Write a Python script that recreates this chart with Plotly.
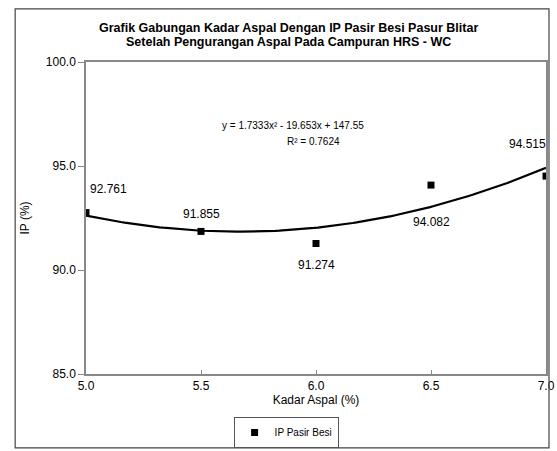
import numpy as np
import plotly.graph_objects as go

# Asphalt content (%) and IP values for Pasir Besi
kadar_aspal = [5.0, 5.5, 6.0, 6.5, 7.0]
ip_pasir_besi = [92.761, 91.855, 91.274, 94.082, 94.515]
x_ticks = [5.0, 5.5, 6.0, 6.5, 7.0]
y_ticks = [85.0, 90.0, 95.0, 100.0]

# Second-order polynomial trendline fitted to the data
coef = np.polyfit(kadar_aspal, ip_pasir_besi, 2)
xs = np.linspace(5.0, 7.0, 120)
ys = np.polyval(coef, xs)

equation_text = "y = 1.7333x² - 19.653x + 147.55"
r2_text = "R² = 0.7624"

font = "Liberation Sans, Arial, sans-serif"

fig = go.Figure()
fig.add_trace(go.Scatter(
    x=xs, y=ys, mode="lines",
    line=dict(color="black", width=2.2),
    showlegend=False, hoverinfo="skip",
))
fig.add_trace(go.Scatter(
    x=kadar_aspal, y=ip_pasir_besi, mode="markers",
    marker=dict(symbol="square", size=7, color="black"),
    name="IP Pasir Besi",
))

# Data labels: (x shift px, y shift px, anchor)
label_pos = [(2, 24, "left"), (0, 17, "center"), (0, -21, "center"),
             (0, -37, "center"), (-19, 32, "center")]
for xv, yv, (dx, dy, anc) in zip(kadar_aspal, ip_pasir_besi, label_pos):
    fig.add_annotation(
        x=xv, y=yv, text=f"{yv:.3f}", showarrow=False,
        xshift=dx, yshift=dy, xanchor=anc, yanchor="middle",
        font=dict(family=font, size=12, color="black"),
    )

fig.add_annotation(
    x=5.9, y=96.97, text=equation_text, showarrow=False,
    font=dict(family=font, size=10, color="black"),
)
fig.add_annotation(
    x=5.99, y=96.2, text=r2_text, showarrow=False,
    font=dict(family=font, size=10, color="black"),
)

# Chart title (two lines)
fig.add_annotation(
    xref="paper", yref="paper", x=0.44, y=1.0, yshift=34,
    text="<b>Grafik Gabungan Kadar Aspal Dengan IP Pasir Besi Pasur Blitar</b>",
    showarrow=False, yanchor="middle",
    font=dict(family=font, size=12.5, color="black"),
)
fig.add_annotation(
    xref="paper", yref="paper", x=0.44, y=1.0, yshift=20,
    text="<b>Setelah Pengurangan Aspal Pada Campuran HRS - WC</b>",
    showarrow=False, yanchor="middle",
    font=dict(family=font, size=12.5, color="black"),
)

# Outer chart border
fig.add_shape(
    type="rect", xref="paper", yref="paper",
    x0=-0.154, x1=1.0065, y0=-0.237, y1=1.17,
    line=dict(color="#444", width=1.2), fillcolor="rgba(0,0,0,0)",
)

fig.update_layout(
    width=557, height=451,
    margin=dict(l=86, r=11, t=62, b=77, autoexpand=False),
    paper_bgcolor="white", plot_bgcolor="white",
    font=dict(family=font, size=12, color="black"),
    showlegend=True,
    legend=dict(
        x=0.435, y=-0.138, xanchor="center", yanchor="top",
        orientation="h", bordercolor="#555", borderwidth=1, bgcolor="white",
        itemwidth=30, tracegroupgap=0,
        font=dict(family=font, size=10, color="black"),
    ),
    xaxis=dict(
        range=[5.0, 7.0], tickvals=x_ticks, tickformat=".1f",
        showgrid=False, zeroline=False, automargin=False,
        showline=True, linecolor="#888", linewidth=1.5, mirror=True,
        ticks="inside", ticklen=4, tickcolor="#888",
        title=dict(text="Kadar Aspal (%)", standoff=2,
                   font=dict(family=font, size=12)),
        tickfont=dict(family=font, size=12),
    ),
    yaxis=dict(
        range=[85.0, 100.0], tickvals=y_ticks, tickformat=".1f",
        showgrid=False, zeroline=False, automargin=False,
        showline=True, linecolor="#888", linewidth=1.5, mirror=True,
        ticks="outside", ticklen=6, tickcolor="#888",
        title=dict(text="IP (%)", standoff=14,
                   font=dict(family=font, size=12)),
        tickfont=dict(family=font, size=12),
    ),
)

fig.write_html("out.html")
